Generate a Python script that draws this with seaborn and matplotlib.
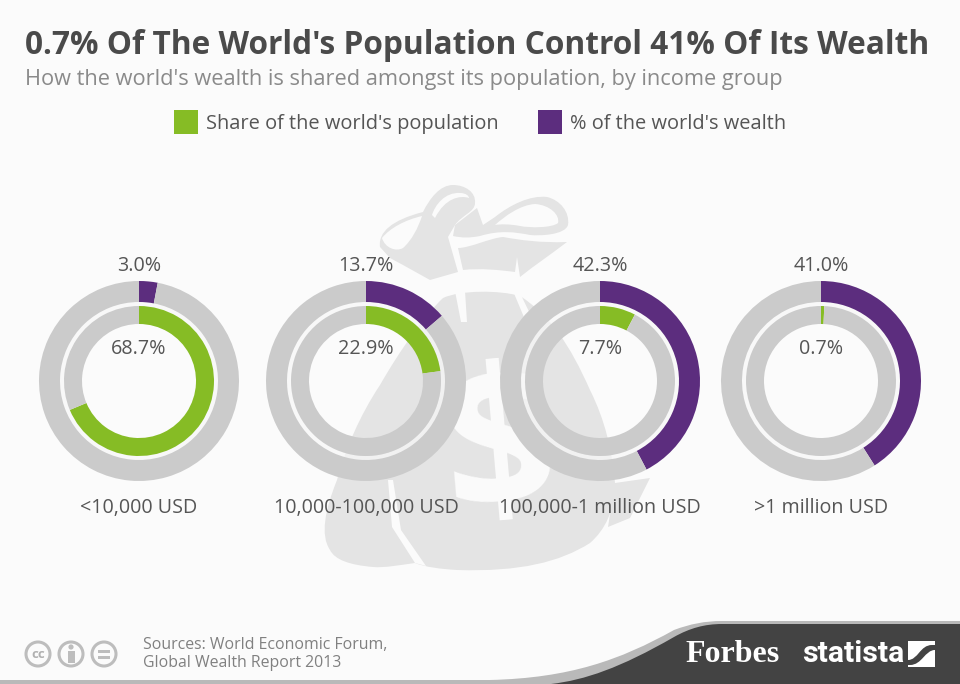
import matplotlib
matplotlib.use("Agg")
import matplotlib.pyplot as plt
from matplotlib.path import Path
from matplotlib.patches import PathPatch, Circle, Rectangle, Wedge
import seaborn as sns

groups = ["<10,000 USD", "10,000-100,000 USD", "100,000-1 million USD", ">1 million USD"]
population = [68.7, 22.9, 7.7, 0.7]
wealth = [3.0, 13.7, 42.3, 41.0]
legend_labels = ["Share of the world's population", "% of the world's wealth"]
title = "0.7% Of The World's Population Control 41% Of Its Wealth"
subtitle = "How the world's wealth is shared amongst its population, by income group"
source = "Sources: World Economic Forum,\nGlobal Wealth Report 2013"

GREEN, PURPLE, GREY = "#86BC25", "#5C2D7E", "#CBCBCB"
BG, BAG, TEXT, DARK = "#FBFBFB", "#E4E4E4", "#555555", "#434343"
centers = [139, 366, 600, 821]
CY = 381

sns.set_theme(style="white")
plt.rcParams["font.family"] = ["Open Sans", "DejaVu Sans"]

fig = plt.figure(figsize=(9.6, 6.84), dpi=100, facecolor=BG)
ax = fig.add_axes([0, 0, 1, 1], zorder=0)
ax.set_xlim(0, 960)
ax.set_ylim(684, 0)
ax.set_aspect("equal")
ax.axis("off")
pax = fig.add_axes([0, 0, 1, 1], zorder=1)
pax.patch.set_alpha(0)


def shape(verts, color, z=1, **kw):
    codes = [Path.MOVETO]
    pts = [verts[0]]
    for seg in verts[1:]:
        if len(seg) == 2:
            codes.append(Path.LINETO)
            pts.append(seg)
        else:
            codes += [Path.CURVE4] * 3
            pts += [seg[:2], seg[2:4], seg[4:6]]
    ax.add_patch(PathPatch(Path(pts, codes), fc=color, ec="none", zorder=z, **kw))


# money bag backdrop: left loop and shoulder
shape([(380, 247), (378, 232, 392, 220, 423, 212), (430, 198, 440, 185, 453, 185),
       (465, 185, 476, 192, 475, 203), (475, 212, 462, 215, 455, 225), (448, 237), (458, 272),
       (430, 280), (403, 265), (390, 258), (380, 247)], BAG)
shape([(382, 238), (390, 228, 405, 220, 422, 216), (418, 228, 412, 240, 403, 248),
       (396, 252, 385, 248, 382, 238)], BG, z=1.1)
shape([(432, 215), (435, 205, 445, 192, 460, 193), (466, 193, 469, 196, 469, 198),
       (460, 195, 445, 198, 435, 218), (432, 215)], BG, z=1.1)
# knot and right loop
shape([(455, 225), (477, 208), (483, 225), (495, 217), (510, 205, 530, 195, 547, 197),
       (560, 200, 570, 212, 568, 225), (565, 235, 540, 236, 530, 235),
       (515, 232, 500, 230, 480, 236), (470, 238, 462, 238, 453, 236), (455, 225)], BAG)
shape([(495, 225), (505, 216, 520, 205, 535, 204), (550, 205, 560, 215, 558, 223),
       (552, 228, 530, 228, 520, 226), (510, 224, 500, 224, 495, 225)], BG, z=1.1)
# neck
shape([(458, 248), (470, 248, 490, 238, 503, 237), (520, 240, 540, 243, 567, 242),
       (550, 255, 535, 265, 520, 277), (517, 257), (515, 272),
       (500, 270, 480, 268, 463, 270), (458, 248)], BAG)
# body
shape([(443, 298), (460, 290, 500, 290, 520, 296), (550, 315, 570, 345, 590, 390),
       (605, 420, 612, 450, 615, 483), (615, 510, 605, 530, 590, 543),
       (560, 562, 520, 572, 457, 570), (440, 569, 425, 567, 415, 563),
       (400, 565, 385, 568, 373, 567), (350, 565, 335, 560, 330, 550),
       (320, 535, 325, 510, 337, 480), (345, 450, 360, 415, 380, 385),
       (400, 350, 425, 315, 443, 298)], BAG)
shape([(615, 483), (608, 527), (630, 518), (650, 478), (615, 483)], BAG)
# creases and dollar sign
shape([(455, 291), (465, 291), (467, 322), (461, 322), (455, 291)], BG, z=1.1)
shape([(513, 291), (520, 293), (534, 322), (526, 322), (513, 291)], BG, z=1.1)
shape([(388, 480), (392, 527), (415, 563), (426, 566), (401, 530), (393, 480), (388, 480)], BG, z=1.1)
shape([(420, 357), (412, 372, 404, 386, 398, 402), (404, 386, 412, 372, 420, 357)], BG, z=1.1)
ax.text(500, 456, "$", fontsize=142, color=BG, ha="center", va="center", fontweight="bold",
        rotation=5, zorder=1.2)

# footer
shape([(0, 680), (490, 680), (570, 678, 620, 660, 674, 630), (690, 624, 705, 621, 722, 621),
       (960, 621), (960, 684), (0, 684), (0, 680)], "#B9B9B9")
shape([(551, 684), (585, 680, 620, 668, 674, 637), (690, 628, 705, 624, 722, 624),
       (960, 624), (960, 684), (551, 684)], DARK, z=1.1)
for x in (38, 71, 104):
    ax.add_patch(Circle((x, 654), 12, fc="none", ec="#BDBDBD", lw=2.2, zorder=2))
ax.text(38, 654, "cc", fontsize=9.5, fontweight="bold", color="#B0B0B0", ha="center", va="center", zorder=2)
ax.add_patch(Circle((71, 647), 2.6, fc="#BDBDBD", ec="none", zorder=2))
ax.add_patch(Rectangle((67.5, 651), 7, 12, fc="#BDBDBD", ec="none", zorder=2))
ax.add_patch(Rectangle((98, 649.5), 12, 3, fc="#BDBDBD", ec="none", zorder=2))
ax.add_patch(Rectangle((98, 655.5), 12, 3, fc="#BDBDBD", ec="none", zorder=2))
ax.text(143, 654, source, fontsize=11.45, color="#808080", ha="left", va="center", linespacing=1.15, zorder=2)
ax.text(733, 655, "Forbes", fontsize=23, fontweight="bold", family="Liberation Serif", color="white",
        ha="center", va="center", zorder=2)
ax.text(853, 654, "statista", fontsize=21.8, fontweight="bold", family="Roboto", color="white",
        ha="center", va="center", zorder=2)
ax.add_patch(Rectangle((908, 641), 27, 26, fc="white", ec="none", zorder=2))
shape([(908, 660), (918, 660, 920, 645, 932, 645), (935, 645), (935, 650),
       (925, 650, 922, 665, 910, 665), (908, 665), (908, 660)], DARK, z=2.1)

# titles and legend
ax.text(25, 45, title, fontsize=22.74, fontweight="bold", color="#4A4A4A", ha="left", va="center", zorder=3)
ax.text(25, 79, subtitle, fontsize=15.7, color="#8A8A8A", ha="left", va="center", zorder=3)
for x, lab, col in zip((174, 538), legend_labels, (GREEN, PURPLE)):
    ax.add_patch(Rectangle((x, 110), 24, 24, fc=col, ec="none", zorder=3))
    ax.text(x + 32, 124, lab, fontsize=14.4, color=TEXT, ha="left", va="center", zorder=3)

# donuts
pax.set_xlim(0, 960)
pax.set_ylim(-684, 0)
for cx, pop, w, g in zip(centers, population, wealth, groups):
    pax.add_patch(Wedge((cx, -CY), 80, 0, 360, width=5, fc="#F7F7F7", ec="none", alpha=.7, zorder=0.5))
    pax.pie([w, 100 - w], colors=[PURPLE, GREY], startangle=90, counterclock=False, center=(cx, -CY),
            radius=100, wedgeprops=dict(width=21, linewidth=0), frame=True)
    pax.pie([pop, 100 - pop], colors=[GREEN, GREY], startangle=90, counterclock=False, center=(cx, -CY),
            radius=75, wedgeprops=dict(width=18, linewidth=0), frame=True)
    pax.text(cx, -266, f"{w:.1f}%", ha="center", va="center", fontsize=14.2, color=TEXT)
    pax.text(cx, -349, f"{pop:.1f}%", ha="center", va="center", fontsize=14.2, color=TEXT)
    pax.text(cx, -508, g, ha="center", va="center", fontsize=14.2, color=TEXT)
pax.set_xlim(0, 960)
pax.set_ylim(-684, 0)
pax.axis("off")

fig.savefig("out.png", dpi=100, facecolor=BG)
